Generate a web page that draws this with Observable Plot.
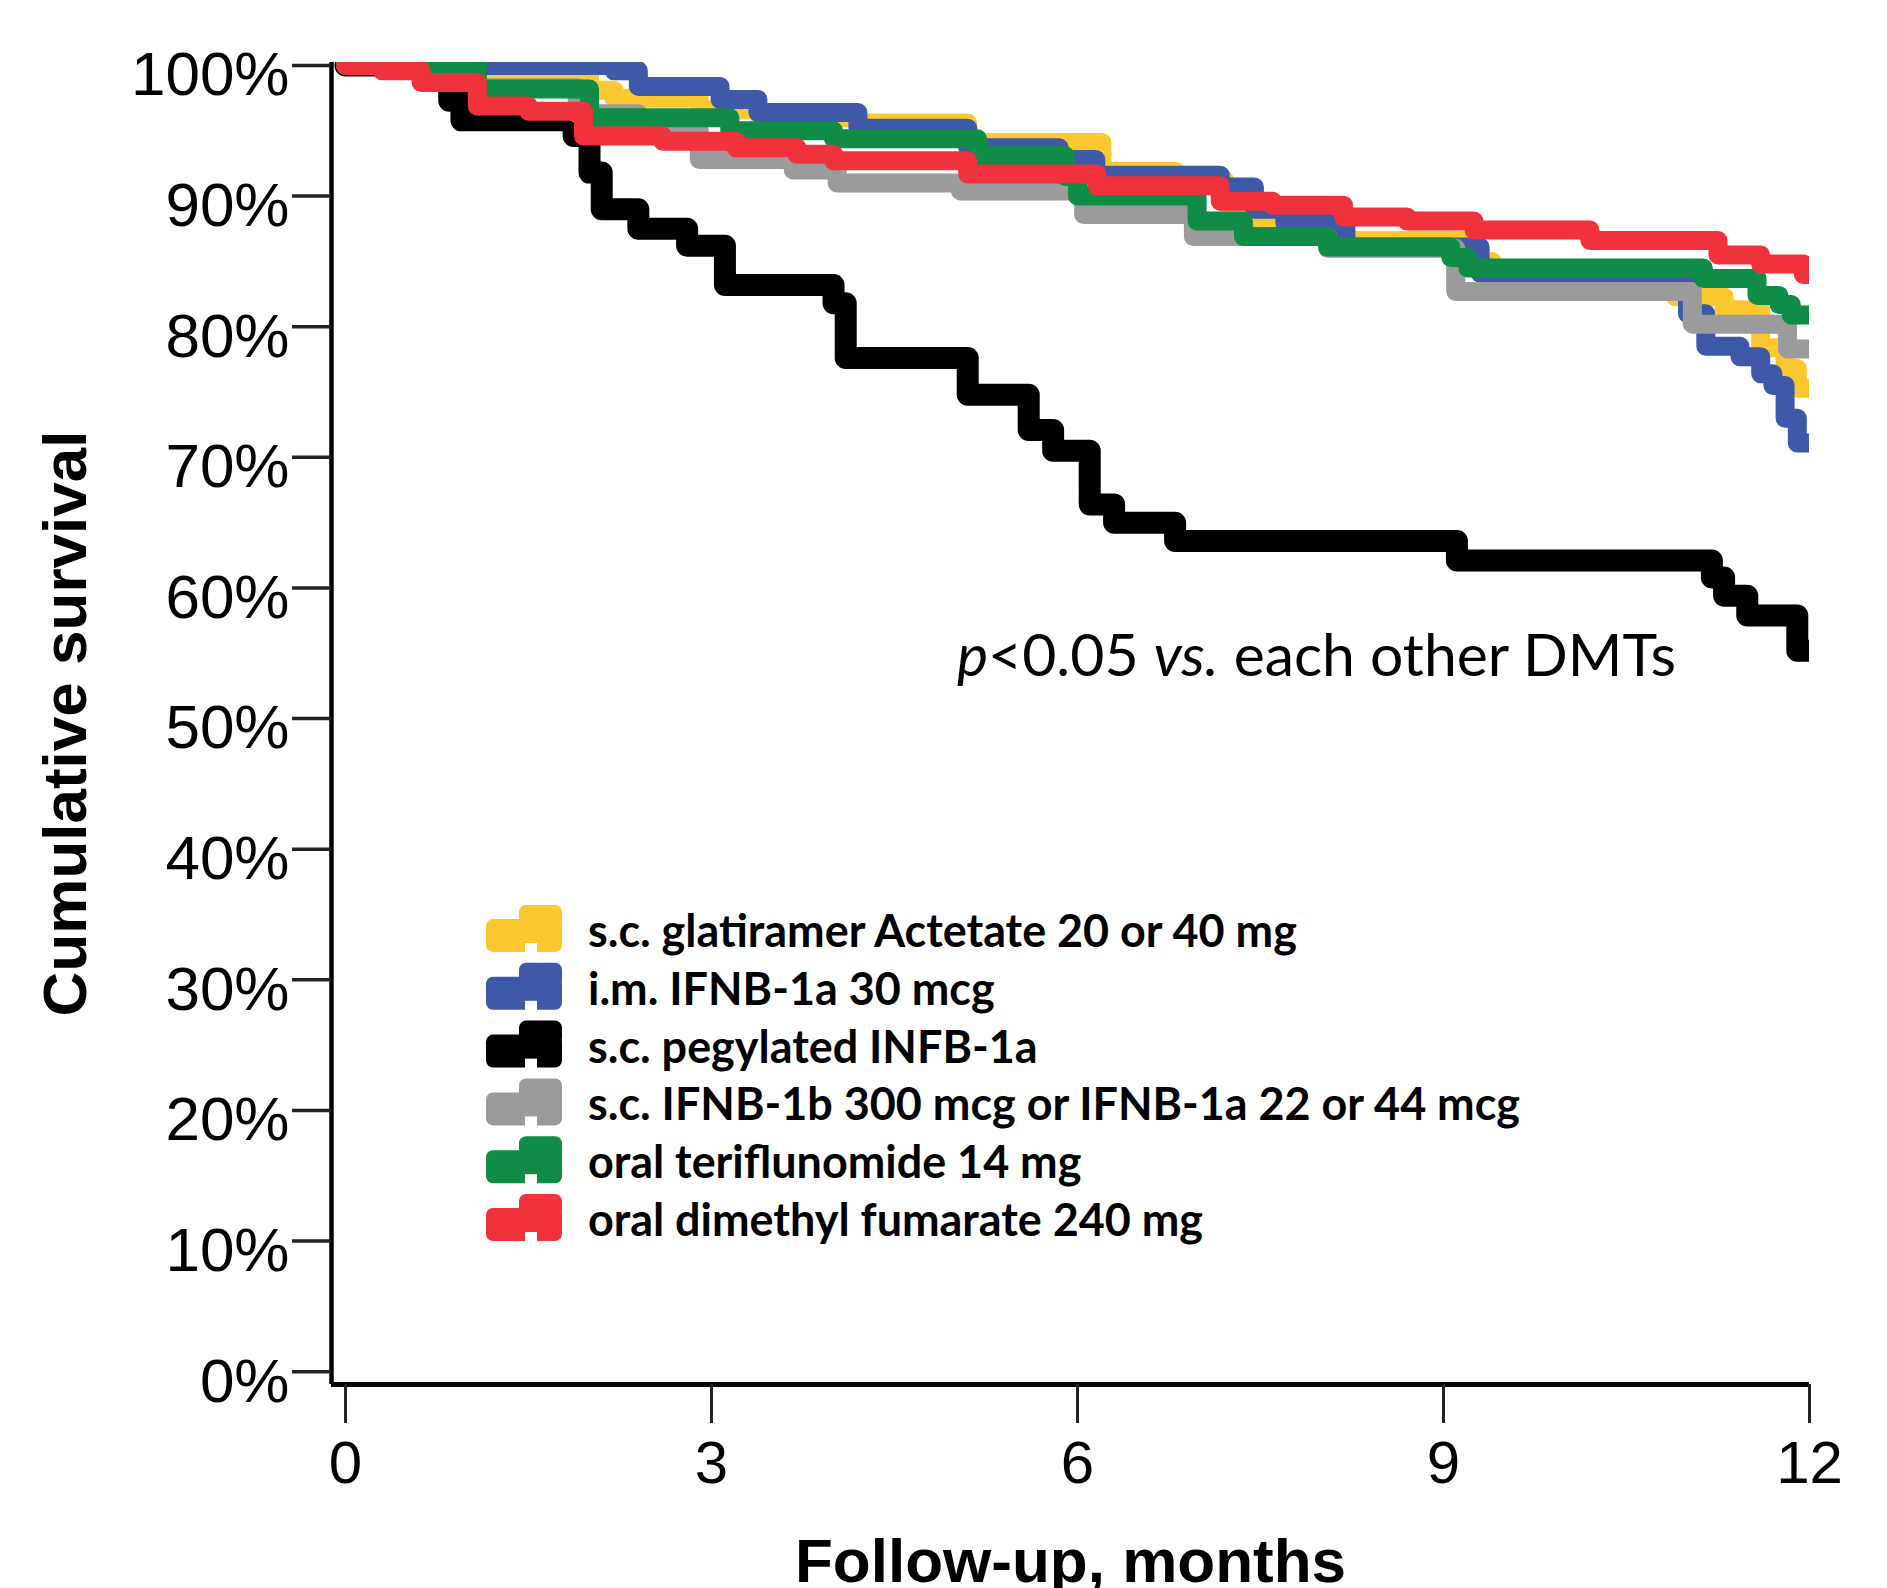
<!DOCTYPE html>
<html>
<head>
<meta charset="utf-8">
<script src="https://cdn.jsdelivr.net/npm/d3@7"></script>
<script src="https://cdn.jsdelivr.net/npm/@observablehq/plot@0.6"></script>
<style>
  html, body { margin: 0; padding: 0; background: #fff; }
  #chart { position: relative; width: 1887px; height: 1588px; overflow: hidden; }
</style>
</head>
<body>
<div id="chart"></div>
<script>
// ---------- DATA ----------
// Kaplan–Meier steps: [month, cumulative survival %]
const glatiramer = [[0,100],[1.1,99.3],[2.0,98.1],[2.2,97.5],[2.9,96.6],[3.4,96.0],[4.2,95.6],[5.1,94.1],[6.2,91.9],[6.8,91.3],[7.2,89.5],[7.5,88.0],[8.1,86.6],[9.2,85.0],[9.4,83.0],[10.9,82.3],[11.3,81.3],[11.6,78.4],[11.8,76.8],[11.9,75.3],[12,75.3]];
const ifnImA = [[0,100],[2.2,99.6],[2.4,98.4],[3.07,97.4],[3.38,96.4],[4.2,95.2],[5.1,93.7],[5.85,92.8],[6.15,91.6],[7.17,90.7],[7.45,89.0],[7.7,87.9],[8.2,86.1],[9.3,84.1],[9.5,83.3],[11.0,81.0],[11.15,78.5],[11.43,77.7],[11.6,76.4],[11.7,75.5],[11.8,73.0],[11.9,71.1],[12,71.1]];
const pegIfn = [[0,100],[0.85,97.3],[0.95,95.8],[1.87,94.6],[2.0,91.8],[2.1,89.0],[2.4,87.5],[2.8,86.2],[3.11,83.2],[4.0,81.8],[4.1,77.6],[5.1,74.8],[5.6,72.1],[5.8,70.5],[6.1,66.4],[6.3,65.0],[6.8,63.6],[9.11,62.1],[11.2,60.8],[11.3,59.4],[11.49,57.9],[11.9,55.2],[12,55.2]];
const ifnSc = [[0,100],[0.9,99.0],[1.08,98.3],[1.9,96.3],[2.4,95.0],[2.9,92.8],[3.67,92.0],[4.03,91.0],[5.04,90.4],[6.05,88.6],[6.95,86.9],[8.05,86.0],[9.1,82.7],[11.04,80.2],[11.82,78.3],[12,78.3]];
const teriflunomide = [[0,100],[1.08,98.2],[2.0,96.0],[3.15,95.0],[4.0,94.4],[5.18,93.1],[5.9,91.5],[6.0,90.0],[6.98,88.1],[7.36,86.9],[8.05,86.1],[9.06,85.3],[9.2,84.5],[11.13,83.7],[11.57,82.4],[11.75,81.7],[11.85,80.9],[12,80.9]];
const dimethylFumarate = [[0,100],[0.3,99.6],[0.62,98.7],[1.08,96.9],[1.5,96.5],[1.95,94.6],[2.6,94.2],[3.2,93.7],[3.7,93.2],[4.0,92.7],[5.1,91.7],[6.16,90.8],[7.17,89.6],[7.6,89.3],[8.18,88.4],[8.7,88.1],[9.25,87.4],[10.2,86.6],[11.25,85.5],[11.6,84.8],[11.95,84.0],[12,84.0]];

const seriesLabels = [
  "s.c. glatiramer Actetate 20 or 40 mg",
  "i.m. IFNB-1a 30 mcg",
  "s.c. pegylated INFB-1a",
  "s.c. IFNB-1b 300 mcg or IFNB-1a 22 or 44 mcg",
  "oral teriflunomide 14 mg",
  "oral dimethyl fumarate 240 mg"
];
const seriesData = [glatiramer, ifnImA, pegIfn, ifnSc, teriflunomide, dimethylFumarate];
const seriesColors = ["#FDC82F", "#3F59A9", "#000000", "#9B9B9B", "#0F8C45", "#EF323B"];

const xTicks = [0, 3, 6, 9, 12];
const yTicks = [0, 10, 20, 30, 40, 50, 60, 70, 80, 90, 100];
const yTickLabels = ["0%","10%","20%","30%","40%","50%","60%","70%","80%","90%","100%"];
const xTitle = "Follow-up, months";
const yTitle = "Cumulative survival";

// ---------- LAYOUT ----------
const W = 1887, H = 1588;
const xDomain = [-0.115, 12];
const yDomain = [-0.98, 100.23];
const axisFont = "'Liberation Sans', Arial, Helvetica, sans-serif";

const lineMarks = seriesData.map((data, i) => Plot.line(data, {
  x: d => d[0], y: d => d[1],
  curve: "step-after",
  stroke: seriesColors[i],
  strokeWidth: i === 2 ? 22 : 19,
  strokeLinejoin: "round",
  strokeLinecap: "round",
  clip: true
}));

const svg = Plot.plot({
  width: W, height: H,
  marginLeft: 331, marginRight: 78, marginTop: 62, marginBottom: 204,
  x: {domain: xDomain},
  y: {domain: yDomain},
  style: {fontFamily: axisFont, color: "#000", background: "#fff", overflow: "visible"},
  marks: [
    ...lineMarks,
    // axis lines
    Plot.ruleX([xDomain[0]], {y1: yDomain[0], y2: yDomain[1], stroke: "#000", strokeWidth: 4.5}),
    Plot.ruleY([yDomain[0]], {x1: xDomain[0], x2: xTicks[xTicks.length - 1], stroke: "#000", strokeWidth: 5}),
    // y ticks (marks only) and labels
    Plot.axisY({ticks: yTicks, tickSize: 39, fill: "none", stroke: "#222", strokeWidth: 3.5, label: null}),
    Plot.axisY({ticks: yTicks, tickSize: 0, tickPadding: 42, dy: 10, fontSize: 62, fill: "#000",
      tickFormat: d => yTickLabels[yTicks.indexOf(d)], label: null}),
    // x ticks and labels
    Plot.axisX({ticks: xTicks, tickSize: 39, tickPadding: 17, fontSize: 60, stroke: "#222", strokeWidth: 3,
      fill: "#000", tickFormat: d => String(d), label: null}),
    // axis titles
    Plot.text([yTitle], {text: d => d, frameAnchor: "left", dx: -265, rotate: -90, lineAnchor: "middle",
      textAnchor: "middle", fontSize: 62, fontWeight: "bold", fill: "#000"}),
    Plot.text([xTitle], {text: d => d, frameAnchor: "bottom", dy: 197, lineAnchor: "bottom",
      textAnchor: "middle", fontSize: 62, fontWeight: "bold", fill: "#000"})
  ]
});

document.getElementById("chart").appendChild(svg);

// ---------- LEGEND & ANNOTATION (overlaid inside the same SVG) ----------
const root = d3.select(svg);
const humanist = "Lato, 'Open Sans', 'Noto Sans', sans-serif";

// annotation
const ann = root.append("text")
  .attr("x", 957).attr("y", 676).attr("text-anchor", "start")
  .style("font-family", humanist).style("font-size", "58px").attr("fill", "#000");
ann.append("tspan").style("font-style", "italic").text("p");
ann.append("tspan").text("<0.05 ");
ann.append("tspan").style("font-style", "italic").text("vs.");
ann.append("tspan").text(" each other DMTs");
const annW = ann.node().getComputedTextLength();
if (annW > 0) ann.style("font-size", (58 * 719 / annW).toFixed(2) + "px");

// legend
const leg = root.append("g").attr("text-anchor", "start");
const rowStep = 57.8;
const swX = 486, swTop = 905, txtX = 588, txtBase = 947;
let legSize = 45;
seriesLabels.forEach((lab, i) => {
  const g = leg.append("g").attr("transform", `translate(0,${i * rowStep})`);
  const c = seriesColors[i];
  g.append("rect").attr("x", swX).attr("y", swTop + 14).attr("width", 76).attr("height", 33).attr("rx", 7).attr("fill", c);
  g.append("rect").attr("x", swX + 33).attr("y", swTop).attr("width", 43).attr("height", 24).attr("rx", 7).attr("fill", c);
  g.append("rect").attr("x", swX + 39).attr("y", swTop + 38).attr("width", 12).attr("height", 10).attr("fill", "#fff");
  g.append("text").attr("class", "legtxt").attr("x", txtX).attr("y", txtBase).attr("text-anchor", "start")
    .style("font-family", humanist).style("font-weight", "bold").style("font-size", legSize + "px")
    .attr("fill", "#000").text(lab);
});
const firstW = leg.select("text.legtxt").node().getComputedTextLength();
if (firstW > 0) {
  legSize = legSize * 709 / firstW;
  leg.selectAll("text.legtxt").style("font-size", legSize.toFixed(2) + "px");
}
</script>
</body>
</html>
